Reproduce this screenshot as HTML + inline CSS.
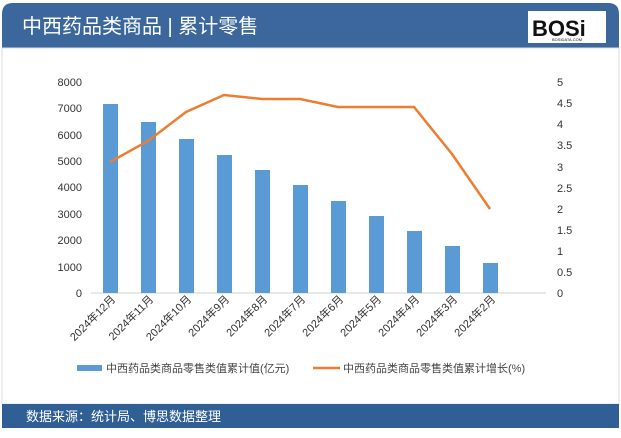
<!DOCTYPE html>
<html><head><meta charset="utf-8"><style>
body{margin:0;width:621px;height:433px;background:#fff;overflow:hidden;font-family:"Liberation Sans","Noto Sans CJK SC",sans-serif}
</style></head><body>
<svg width="621" height="433" xmlns="http://www.w3.org/2000/svg" font-family="Liberation Sans, Noto Sans CJK SC, sans-serif">
<rect x="0" y="0" width="621" height="433" fill="#fff"/>
<path d="M2,48 L2,14 Q2,3 13,3 L608,3 Q619,3 619,14 L619,48 Z" fill="#3b679c"/>
<rect x="2" y="48" width="617" height="356" fill="#fff" stroke="#d8dde6"/>
<text x="22" y="33" font-size="20" fill="#fff">中西药品类商品 | 累计零售</text>
<rect x="528" y="11" width="78" height="32" fill="#fff"/>
<text x="532" y="36" font-size="22" font-weight="bold" fill="#111">BOSi</text>
<text x="552" y="41" font-size="4" fill="#111">BOSIDATA.COM</text>
<rect x="2" y="404" width="617" height="24" fill="#2f5f94"/>
<text x="26" y="421" font-size="13" fill="#fff">数据来源：统计局、博思数据整理</text>
<g font-size="11" fill="#333" text-anchor="end">
<text x="82" y="297">0</text><text x="82" y="271">1000</text><text x="82" y="244">2000</text><text x="82" y="218">3000</text><text x="82" y="191">4000</text><text x="82" y="165">5000</text><text x="82" y="139">6000</text><text x="82" y="112">7000</text><text x="82" y="86">8000</text>
</g>
<g font-size="11" fill="#333">
<text x="557" y="297">0</text><text x="557" y="276">0.5</text><text x="557" y="255">1</text><text x="557" y="234">1.5</text><text x="557" y="213">2</text><text x="557" y="192">2.5</text><text x="557" y="171">3</text><text x="557" y="149">3.5</text><text x="557" y="128">4</text><text x="557" y="107">4.5</text><text x="557" y="86">5</text>
</g>
<line x1="91" y1="293" x2="546" y2="293" stroke="#d0d0d0"/>
<g fill="#5b9bd5">
<rect x="103" y="104" width="15" height="189"/>
<rect x="141" y="122" width="15" height="171"/>
<rect x="179" y="139" width="15" height="154"/>
<rect x="217" y="155" width="15" height="138"/>
<rect x="255" y="170" width="15" height="123"/>
<rect x="293" y="185" width="15" height="108"/>
<rect x="331" y="201" width="15" height="92"/>
<rect x="369" y="216" width="15" height="77"/>
<rect x="407" y="231" width="15" height="62"/>
<rect x="445" y="246" width="15" height="47"/>
<rect x="483" y="263" width="15" height="30"/>
</g>
<polyline fill="none" stroke="#ed7d31" stroke-width="2.5" points="110,162 148,141 186,112 224,95 262,99 300,99 338,107 376,107 414,107 452,154 490,209"/>
<g font-size="11" fill="#333" text-anchor="end">
<text transform="translate(116,300) rotate(-45)">2024年12月</text>
<text transform="translate(154,300) rotate(-45)">2024年11月</text>
<text transform="translate(192,300) rotate(-45)">2024年10月</text>
<text transform="translate(230,300) rotate(-45)">2024年9月</text>
<text transform="translate(268,300) rotate(-45)">2024年8月</text>
<text transform="translate(306,300) rotate(-45)">2024年7月</text>
<text transform="translate(344,300) rotate(-45)">2024年6月</text>
<text transform="translate(382,300) rotate(-45)">2024年5月</text>
<text transform="translate(420,300) rotate(-45)">2024年4月</text>
<text transform="translate(458,300) rotate(-45)">2024年3月</text>
<text transform="translate(496,300) rotate(-45)">2024年2月</text>
</g>
<rect x="77" y="365" width="25" height="6" fill="#5b9bd5"/>
<text x="106" y="372" font-size="11" fill="#444">中西药品类商品零售类值累计值(亿元)</text>
<line x1="313" y1="368" x2="340" y2="368" stroke="#ed7d31" stroke-width="2.5"/>
<text x="343" y="372" font-size="11" fill="#444">中西药品类商品零售类值累计增长(%)</text>
</svg>
</body></html>
